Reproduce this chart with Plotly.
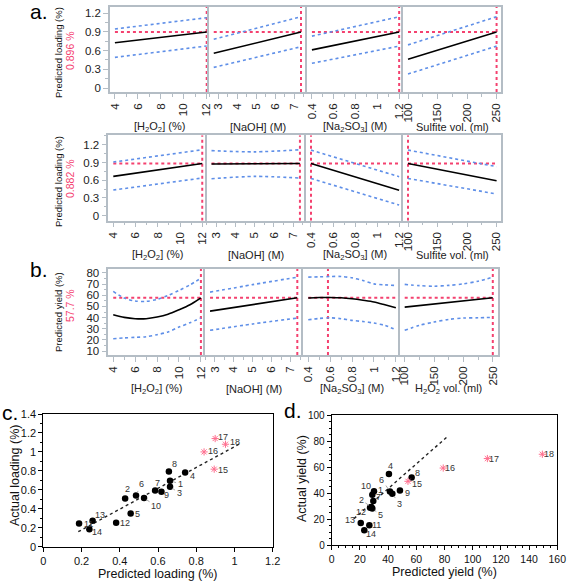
import plotly.graph_objects as go

W, H = 568, 582

# ---------------- DATA ----------------
# factor levels (x of straight profile traces)
h2o2_levels = [4, 12]
naoh_levels = [2.75, 7.35]
na2so3_levels = [0.4, 1.2]
vol_levels = [100, 250]
naoh_band_x = [2.75, 5, 7.35]

# a. row 1 : predicted loading, current 0.896 %
a1_pred = 0.896
a1_h2o2_mean = [0.725, 0.896]
a1_h2o2_upper = [0.944, 1.125]
a1_h2o2_lower = [0.49, 0.672]
a1_naoh_mean = [0.555, 0.896]
a1_naoh_upper = [0.78, 1.14]
a1_naoh_lower = [0.33, 0.66]
a1_na2so3_mean = [0.61, 0.896]
a1_na2so3_upper = [0.83, 1.14]
a1_na2so3_lower = [0.395, 0.67]
a1_vol_mean = [0.46, 0.896]
a1_vol_upper = [0.69, 1.14]
a1_vol_lower = [0.224, 0.67]
a1_current = [12, 7.35, 1.2, 250]

# a. row 2 : predicted loading, current 0.882 %
a2_pred = 0.882
a2_h2o2_mean = [0.665, 0.882]
a2_h2o2_upper = [0.907, 1.115]
a2_h2o2_lower = [0.434, 0.637]
a2_naoh_mean = [0.875, 0.882]
a2_naoh_upper = [1.10, 1.08, 1.115]
a2_naoh_lower = [0.625, 0.665, 0.637]
a2_na2so3_mean = [0.882, 0.43]
a2_na2so3_upper = [1.11, 0.66]
a2_na2so3_lower = [0.63, 0.18]
a2_vol_mean = [0.882, 0.59]
a2_vol_upper = [1.11, 0.83]
a2_vol_lower = [0.63, 0.367]
a2_current = [12, 7.35, 0.4, 100]

# b. predicted yield, current 57.7 %
b_pred = 57.7
b_h2o2_x = [4, 5, 6, 7, 8, 9, 10, 11, 12]
b_h2o2_mean = [42.5, 40.2, 39.0, 39.0, 40.5, 43.0, 47.0, 51.5, 57.7]
b_h2o2_upper = [63.4, 57.5, 54.8, 54.5, 56.3, 59.8, 64.3, 69.3, 75.3]
b_h2o2_lower = [21.1, 21.8, 22.3, 22.9, 24.7, 27.1, 31.5, 35.4, 39.6]
b_naoh_mean = [45.8, 57.7]
b_naoh_upper = [62.8, 69.5, 76.2]
b_naoh_lower = [28.6, 34.3, 39.6]
b_na2so3_x = [0.4, 0.5, 0.6, 0.7, 0.8, 0.9, 1.0, 1.1, 1.2]
b_na2so3_mean = [57.5, 58.0, 58.0, 57.7, 56.8, 55.5, 54.0, 51.5, 48.8]
b_na2so3_upper = [76.2, 76.5, 76.8, 76.8, 75.6, 73.2, 70.2, 69.3, 68.8]
b_na2so3_lower = [38.0, 39.2, 39.8, 39.0, 37.5, 36.5, 35.1, 33.0, 29.1]
b_vol_x = [100, 125, 150, 175, 200, 225, 250]
b_vol_mean = [49.4, 57.7]
b_vol_upper = [69.7, 68.6, 68.1, 68.8, 70.2, 72.6, 76.2]
b_vol_lower = [28.6, 33.0, 36.0, 38.4, 39.6, 39.8, 40.2]
b_current = [12, 7.35, 0.58, 250]

# c. loading: predicted vs actual
c_ids = ["1", "2", "3", "4", "5", "6", "7", "8", "9", "10", "11", "12", "13", "14"]
c_pred = [0.663, 0.428, 0.663, 0.742, 0.457, 0.485, 0.585, 0.657, 0.618, 0.527, 0.187, 0.381, 0.258, 0.241]
c_act = [0.695, 0.509, 0.632, 0.783, 0.351, 0.541, 0.594, 0.794, 0.579, 0.513, 0.246, 0.253, 0.274, 0.183]
c_val_ids = ["15", "16", "17", "18"]
c_val_pred = [0.894, 0.841, 0.899, 0.953]
c_val_act = [0.818, 1.0, 1.141, 1.081]
c_trend_x = [0.183, 1.03]
c_trend_y = [0.158, 1.088]

# d. yield: predicted vs actual
d_ids = ["1", "2", "3", "4", "5", "6", "7", "8", "9", "10", "11", "12", "13", "14"]
d_pred = [30.0, 28.1, 43.0, 40.6, 28.8, 41.3, 29.5, 56.7, 48.4, 28.8, 26.7, 27.2, 20.6, 23.1]
d_act = [41.4, 29.2, 39.4, 54.6, 28.0, 41.1, 33.8, 52.0, 41.9, 38.6, 15.2, 28.7, 17.0, 11.4]
d_val_ids = ["15", "16", "17", "18"]
d_val_pred = [54.1, 79.1, 110.4, 149.4]
d_val_act = [49.0, 59.2, 66.5, 69.8]
d_trend_x = [15.8, 82.5]
d_trend_y = [20.3, 83.8]

# ---------------- STYLE / LAYOUT ----------------
RED = '#f4416f'
BLUE = '#5f8fe8'
PINK = '#ff6f8f'
FRAME = '#b4bdc5'
PFONT = 'Liberation Sans'

c_lab_off = [(10, 3), (2, -9), (9, 6), (7, 4), (7, 1), (5, -11), (2, -7), (6, -7), (5, 3), (12, 8),
             (9, 1), (9, 0), (7, -6), (8, 3)]
c_lab_leader = [1, 0, 1, 0, 0, 1, 0, 0, 0, 1, 0, 0, 0, 0]
c_val_off = [(9, 1), (9, -1), (8, -2), (10, -2)]
d_lab_off = [(6, -1), (-10, -7), (7, 10), (2, -8), (8, 6), (-8, -12), (5, -4), (6, -4), (8, 2), (-6, -9),
             (7, 0), (-9, 4), (-11, -3), (7, 4)]
d_lab_leader = [0, 1, 1, 0, 1, 1, 0, 0, 0, 1, 0, 1, 0, 0]
d_val_off = [(9, 3), (7, 0), (7, 0), (7, 0)]

row_xpx = [[110, 209, 306.7, 403.3, 501.3],
           [108.3, 206.7, 305.7, 403.3, 501.3],
           [108.3, 205.3, 303, 400, 497.5]]
row_ypx = [(7, 92), (135.3, 220.7), (269, 355)]
row_title_y = [127, 255, 389]
col_xrange = [[[3.57, 12.2], [2.5, 7.65], [0.352, 1.238], [92, 258]],
              [[3.55, 12.4], [2.5, 7.65], [0.352, 1.238], [92, 258]],
              [[3.55, 12.4], [2.5, 7.65], [0.352, 1.238], [92, 258]]]
row_yrange = [[-0.064, 1.296], [-0.085, 1.36], [6.5, 83.5]]
col_ticks = [(4, 2, 1), (3, 1, 0.5), (0.4, 0.2, 0.1), (100, 50, 25)]

profiles = [
    [  # row a1
        (h2o2_levels, a1_h2o2_mean, h2o2_levels, a1_h2o2_upper, a1_h2o2_lower),
        (naoh_levels, a1_naoh_mean, naoh_levels, a1_naoh_upper, a1_naoh_lower),
        (na2so3_levels, a1_na2so3_mean, na2so3_levels, a1_na2so3_upper, a1_na2so3_lower),
        (vol_levels, a1_vol_mean, vol_levels, a1_vol_upper, a1_vol_lower),
    ],
    [  # row a2
        (h2o2_levels, a2_h2o2_mean, h2o2_levels, a2_h2o2_upper, a2_h2o2_lower),
        (naoh_levels, a2_naoh_mean, naoh_band_x, a2_naoh_upper, a2_naoh_lower),
        (na2so3_levels, a2_na2so3_mean, na2so3_levels, a2_na2so3_upper, a2_na2so3_lower),
        (vol_levels, a2_vol_mean, vol_levels, a2_vol_upper, a2_vol_lower),
    ],
    [  # row b
        (b_h2o2_x, b_h2o2_mean, b_h2o2_x, b_h2o2_upper, b_h2o2_lower),
        (naoh_levels, b_naoh_mean, naoh_band_x, b_naoh_upper, b_naoh_lower),
        (b_na2so3_x, b_na2so3_mean, b_na2so3_x, b_na2so3_upper, b_na2so3_lower),
        (vol_levels, b_vol_mean, b_vol_x, b_vol_upper, b_vol_lower),
    ],
]
row_pred = [a1_pred, a2_pred, b_pred]
row_current = [a1_current, a2_current, b_current]
row_xtitles = [["[H<sub>2</sub>O<sub>2</sub>] (%)", "[NaOH] (M)", "[Na<sub>2</sub>SO<sub>3</sub>] (M)", "Sulfite vol. (ml)"],
               ["[H<sub>2</sub>O<sub>2</sub>] (%)", "[NaOH] (M)", "[Na<sub>2</sub>SO<sub>3</sub>] (M)", "Sulfite vol. (ml)"],
               ["[H<sub>2</sub>O<sub>2</sub>] (%)", "[NaOH] (M)", "[Na<sub>2</sub>SO<sub>3</sub>] (M)", "H<sub>2</sub>O<sub>2</sub> vol. (ml)"]]


def sid(k):
    return '' if k == 1 else str(k)


def pann(px, py, text, **kw):
    d = dict(x=px / W, y=1 - py / H, xref='paper', yref='paper', text=text, showarrow=False,
             xanchor='center', yanchor='middle')
    d.update(kw)
    return d


fig = go.Figure()
layout = {}
annotations = []

for r in range(3):
    yr = row_yrange[r]
    top, bot = row_ypx[r]
    for c in range(4):
        k = r * 4 + c + 1
        xs, mean, bx, up, lo = profiles[r][c]
        xr = col_xrange[r][c]
        xa, ya = 'x' + sid(k), 'y' + sid(k)
        cur = row_current[r][c]
        # red reference lines
        fig.add_trace(go.Scatter(x=[min(bx), max(bx)], y=[row_pred[r]] * 2, xaxis=xa, yaxis=ya, mode='lines',
                                 line=dict(color=RED, width=2, dash='dot'), showlegend=False, hoverinfo='skip'))
        fig.add_trace(go.Scatter(x=[cur, cur], y=yr, xaxis=xa, yaxis=ya, mode='lines',
                                 line=dict(color=RED, width=2, dash='dot'), showlegend=False, hoverinfo='skip'))
        for band in (up, lo):
            fig.add_trace(go.Scatter(x=bx, y=band, xaxis=xa, yaxis=ya, mode='lines',
                                     line=dict(color=BLUE, width=1.6, dash='dot', shape='spline', smoothing=0.8),
                                     showlegend=False, hoverinfo='skip'))
        fig.add_trace(go.Scatter(x=xs, y=mean, xaxis=xa, yaxis=ya, mode='lines',
                                 line=dict(color='black', width=1.6, shape='spline', smoothing=0.8),
                                 showlegend=False, hoverinfo='skip'))
        x0, x1 = row_xpx[r][c], row_xpx[r][c + 1]
        t0, dt, mdt = col_ticks[c]
        layout['xaxis' + sid(k)] = dict(
            domain=[x0 / W, x1 / W], range=xr, anchor=ya, showline=True, mirror=True, automargin=False,
            linecolor=FRAME, linewidth=1.5, showgrid=False, zeroline=False,
            ticks='outside', ticklen=5, tickcolor=FRAME, tick0=t0, dtick=dt, tickangle=-90,
            tickfont=dict(size=11.5, color='#222', family=PFONT),
            minor=dict(ticks='outside', ticklen=3, tickcolor=FRAME, tick0=t0, dtick=mdt, showgrid=False))
        ydict = dict(domain=[1 - bot / H, 1 - top / H], range=yr, anchor=xa, showline=True,
                     mirror=(c == 3), automargin=False, linecolor=FRAME, linewidth=1.5,
                     showgrid=False, zeroline=False)
        if c == 0:
            if r < 2:
                ydict.update(ticks='outside', ticklen=5, tickcolor=FRAME, tick0=0, dtick=0.3,
                             tickfont=dict(size=11.5, color='#222', family=PFONT),
                             minor=dict(ticks='outside', ticklen=3, tickcolor=FRAME, dtick=0.15, tick0=0))
            else:
                ydict.update(ticks='outside', ticklen=5, tickcolor=FRAME, tick0=10, dtick=10,
                             tickfont=dict(size=11.5, color='#222', family=PFONT),
                             minor=dict(ticks='outside', ticklen=3, tickcolor=FRAME, dtick=5, tick0=10))
        else:
            ydict.update(showticklabels=False, ticks='')
        layout['yaxis' + sid(k)] = ydict
        annotations.append(pann((x0 + x1) / 2, row_title_y[r], row_xtitles[r][c],
                                font=dict(size=11, color='#222', family=PFONT)))

# y titles of profiler
ytit = [("Predicted loading (%)", 53, "0.896 %", 51), ("Predicted loading (%)", 182, "0.882 %", 179),
        ("Predicted yield (%)", 312, "57.7 %", 306)]
for t, yc, red, yr_ in ytit:
    annotations.append(pann(58, yc, t, textangle=-90, font=dict(size=9.5, color='#111', family=PFONT)))
    annotations.append(pann(70, yr_, red, textangle=-90, font=dict(size=10.5, color=RED, family=PFONT)))

# panel letters
for txt, px, py in [("a.", 39, 11), ("b.", 39, 269), ("c.", 10, 412), ("d.", 293, 410)]:
    annotations.append(pann(px, py, txt, font=dict(size=21, color='black', family='Liberation Sans')))

# scatter axis titles
TF = dict(size=12.5, color='#111', family='Liberation Sans')
annotations.append(pann(158, 574, 'Predicted loading (%)', font=TF))
annotations.append(pann(15, 476, 'Actual loading (%)', textangle=-90, font=TF))
annotations.append(pann(444, 572, 'Predicted yield (%)', font=TF))
annotations.append(pann(302, 479, 'Actual yield (%)', textangle=-90, font=TF))


# ---------------- scatter panels ----------------
def scatter_panel(k, pred, act, ids, offs, leaders, vpred, vact, vids, voffs, tx, ty):
    xa, ya = 'x' + sid(k), 'y' + sid(k)
    fig.add_trace(go.Scatter(x=tx, y=ty, xaxis=xa, yaxis=ya, mode='lines',
                             line=dict(color='#222', width=1.4, dash='dot'), showlegend=False))
    fig.add_trace(go.Scatter(x=pred, y=act, xaxis=xa, yaxis=ya, mode='markers',
                             marker=dict(color='black', size=6.5), showlegend=False))
    fig.add_trace(go.Scatter(x=vpred, y=vact, xaxis=xa, yaxis=ya, mode='markers',
                             marker=dict(symbol='asterisk-open', size=6, color=PINK,
                                         line=dict(color=PINK, width=1)),
                             showlegend=False))
    lf = dict(size=9, color='#333', family='Liberation Sans')
    for i in range(len(pred)):
        dx, dy = offs[i]
        if leaders[i]:
            annotations.append(dict(x=pred[i], y=act[i], xref=xa, yref=ya, text=ids[i], showarrow=True,
                                    ax=dx, ay=dy, arrowhead=0, arrowwidth=1, arrowcolor='#a9a9a9', standoff=3,
                                    font=lf))
        else:
            annotations.append(dict(x=pred[i], y=act[i], xref=xa, yref=ya, text=ids[i], showarrow=False,
                                    xanchor='center', yanchor='middle', xshift=dx, yshift=-dy, font=lf))
    for i in range(len(vpred)):
        dx, dy = voffs[i]
        annotations.append(dict(x=vpred[i], y=vact[i], xref=xa, yref=ya, text=vids[i], showarrow=False,
                                xanchor='center', yanchor='middle', xshift=dx, yshift=-dy, font=lf))


scatter_panel(13, c_pred, c_act, c_ids, c_lab_off, c_lab_leader, c_val_pred, c_val_act, c_val_ids, c_val_off,
              c_trend_x, c_trend_y)
scatter_panel(14, d_pred, d_act, d_ids, d_lab_off, d_lab_leader, d_val_pred, d_val_act, d_val_ids, d_val_off,
              d_trend_x, d_trend_y)

SF = dict(size=11, color='#111', family='Liberation Sans')
common = dict(showline=True, mirror=True, linecolor='black', linewidth=1, ticks='outside', ticklen=4,
              tickcolor='black', showgrid=False, zeroline=False, automargin=False)
layout['xaxis13'] = dict(domain=[43.3 / W, 272.7 / W], range=[0, 1.2], anchor='y13', dtick=0.2, tick0=0,
                         tickfont=SF, **common)
layout['yaxis13'] = dict(domain=[1 - 546.7 / H, 1 - 414 / H], range=[0, 1.4], anchor='x13', dtick=0.2, tick0=0,
                         tickfont=SF, minor=dict(ticks='outside', ticklen=2, tickcolor='black', dtick=0.1, tick0=0),
                         **common)
layout['xaxis14'] = dict(domain=[331.7 / W, 557.3 / W], range=[0, 160], anchor='y14', dtick=20, tick0=0,
                         tickfont=dict(SF, size=10.5),
                         minor=dict(ticks='outside', ticklen=2, tickcolor='black', dtick=5, tick0=0), **common)
layout['yaxis14'] = dict(domain=[1 - 545 / H, 1 - 415 / H], range=[0, 100], anchor='x14', dtick=20, tick0=0,
                         tickfont=dict(SF, size=10),
                         minor=dict(ticks='outside', ticklen=2, tickcolor='black', dtick=5, tick0=0), **common)

fig.update_layout(width=W, height=H, autosize=False, margin=dict(l=0, r=0, t=0, b=0, pad=0),
                  paper_bgcolor='white', plot_bgcolor='white', showlegend=False,
                  annotations=annotations, **layout)

fig.write_html("out.html", config={'displayModeBar': False},
               post_script="document.body.style.margin='0px';document.body.style.padding='0px';"
                           "document.body.style.overflow='hidden';")
